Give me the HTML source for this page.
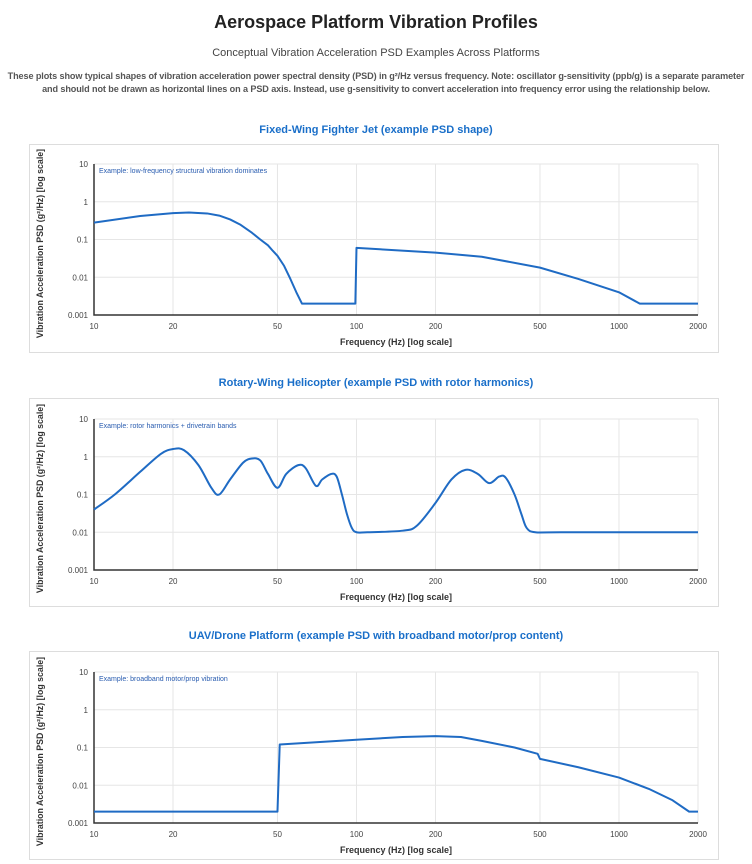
<!DOCTYPE html>
<html><head><meta charset="utf-8">
<style>
body{margin:0;background:#fff;font-family:"Liberation Sans",sans-serif;width:752px;height:864px;overflow:hidden;position:relative}
h1{position:absolute;top:12px;left:0;width:752px;text-align:center;font-size:18px;margin:0;color:#222;font-weight:bold}
.sub{position:absolute;top:47px;left:0;width:752px;text-align:center;font-size:11px;color:#444}
.note{position:absolute;top:70px;left:-10px;width:772px;text-align:center;font-size:9.1px;color:#555;font-weight:bold;line-height:13px;white-space:nowrap;letter-spacing:-0.1px}
.frame{position:absolute;left:29px;width:690px;height:209px;border:1px solid #ddd;box-sizing:border-box}
.ct{position:absolute;left:0;width:752px;text-align:center;font-size:11px;color:#1a6fc9;font-weight:bold}
svg{position:absolute;left:0;top:0}
</style></head><body>
<h1>Aerospace Platform Vibration Profiles</h1>
<div class="sub">Conceptual Vibration Acceleration PSD Examples Across Platforms</div>
<div class="note">These plots show typical shapes of vibration acceleration power spectral density (PSD) in g²/Hz versus frequency. Note: oscillator g-sensitivity (ppb/g) is a separate parameter<br>and should not be drawn as horizontal lines on a PSD axis. Instead, use g-sensitivity to convert acceleration into frequency error using the relationship below.</div>
<div class="ct" style="top:124px">Fixed-Wing Fighter Jet (example PSD shape)</div>
<div class="ct" style="top:377px">Rotary-Wing Helicopter (example PSD with rotor harmonics)</div>
<div class="ct" style="top:630px">UAV/Drone Platform (example PSD with broadband motor/prop content)</div>
<div class="frame" style="top:144px"></div>
<div class="frame" style="top:398px"></div>
<div class="frame" style="top:651px"></div>
<svg id="s" width="752" height="864"></svg>
<script>
const xTicks=[10,20,50,100,200,500,1000,2000];
const yTicks=[10,1,0.1,0.01,0.001];
const yTickLabels=["10","1","0.1","0.01","0.001"];
const fighterFreq=[10,15,20,23,27,30,33,36,40,43,46,48,50,53,56,59,62,99,100,200,300,500,700,1000,1200,2000];
const fighterPsd=[0.28,0.42,0.5,0.52,0.49,0.43,0.34,0.25,0.15,0.1,0.07,0.05,0.037,0.02,0.009,0.004,0.002,0.002,0.06,0.045,0.035,0.018,0.009,0.004,0.002,0.002];
const heliFreq=[10,12,15,18,20,22,25,28,30,33,37,40,43,46,50,54,60,64,70,74,80,84,88,92,96,100,110,150,170,200,230,260,290,320,350,370,400,425,445,480,600,2000];
const heliPsd=[0.04,0.1,0.4,1.2,1.6,1.5,0.6,0.15,0.1,0.25,0.7,0.9,0.8,0.35,0.15,0.35,0.6,0.5,0.17,0.25,0.35,0.3,0.1,0.03,0.013,0.01,0.01,0.011,0.015,0.06,0.25,0.45,0.35,0.2,0.3,0.28,0.1,0.03,0.013,0.01,0.01,0.01];
const uavFreq=[10,50,51,100,150,200,250,300,400,490,500,700,1000,1300,1600,1850,2000];
const uavPsd=[0.002,0.002,0.12,0.16,0.19,0.2,0.19,0.15,0.1,0.068,0.05,0.03,0.016,0.008,0.004,0.002,0.002];
const NS="http://www.w3.org/2000/svg";
const svg=document.getElementById('s');
const X0=94,X1=698;
function xs(f){return X0+(Math.log10(f)-1)/Math.log10(200)*(X1-X0);}
function mk(t,a,txt){const e=document.createElementNS(NS,t);for(const k in a)e.setAttribute(k,a[k]);if(txt!=null)e.textContent=txt;svg.appendChild(e);return e;}
function chart(top,freq,psd,smooth,ann,key){
  const bot=top+151;
  const ys=v=>top+(1-Math.log10(v))/4*(bot-top);
  xTicks.forEach(t=>{const x=xs(t);
    const g=mk('line',{x1:x,x2:x,y1:top,y2:bot,stroke:'#e6e6e6'});
    
    const l=mk('text',{x:x,y:bot+14,'font-size':8,'text-anchor':'middle',fill:'#444'},String(t));
    });
  yTicks.forEach((t,i)=>{const y=ys(t);
    const g=mk('line',{x1:X0,x2:X1,y1:y,y2:y,stroke:'#e6e6e6'});
    
    const l=mk('text',{x:X0-6,y:y+3,'font-size':8,'text-anchor':'end',fill:'#444'},yTickLabels[i]);
    });
  const ax=mk('path',{d:`M${X0},${top}V${bot}H${X1}`,stroke:'#333','stroke-width':1.5,fill:'none'});
  
  const p=freq.map((f,i)=>[xs(f),ys(psd[i])]);
  let d='M'+p[0][0]+','+p[0][1];
  for(let i=1;i<p.length;i++){
    if(smooth){const a=p[Math.max(0,i-2)],b=p[i-1],c=p[i],e=p[Math.min(p.length-1,i+1)];
      d+=`C${b[0]+(c[0]-a[0])/6},${b[1]+(c[1]-a[1])/6} ${c[0]-(e[0]-b[0])/6},${c[1]-(e[1]-b[1])/6} ${c[0]},${c[1]}`;}
    else d+='L'+p[i][0]+','+p[i][1];}
  const ln=mk('path',{d:d,stroke:'#1f6bc4','stroke-width':2,fill:'none','stroke-linejoin':'round'});
  
  const an=mk('text',{x:X0+5,y:top+9,'font-size':7,fill:'#2a5db0'},ann);
  
  const xt=mk('text',{x:396,y:bot+30,'font-size':9,'font-weight':'bold','text-anchor':'middle',fill:'#333'},'Frequency (Hz) [log scale]');
  
  const cy=(top+bot)/2+4;
  const yt=mk('text',{x:0,y:0,'font-size':8.8,'font-weight':'bold','text-anchor':'middle',fill:'#333',transform:`translate(43,${cy}) rotate(-90)`},'Vibration Acceleration PSD (g²/Hz) [log scale]');
  
}
chart(164,fighterFreq,fighterPsd,false,'Example: low-frequency structural vibration dominates','fighter');
chart(419,heliFreq,heliPsd,true,'Example: rotor harmonics + drivetrain bands','helicopter');
chart(672,uavFreq,uavPsd,false,'Example: broadband motor/prop vibration','uav');
</script>
</body></html>
